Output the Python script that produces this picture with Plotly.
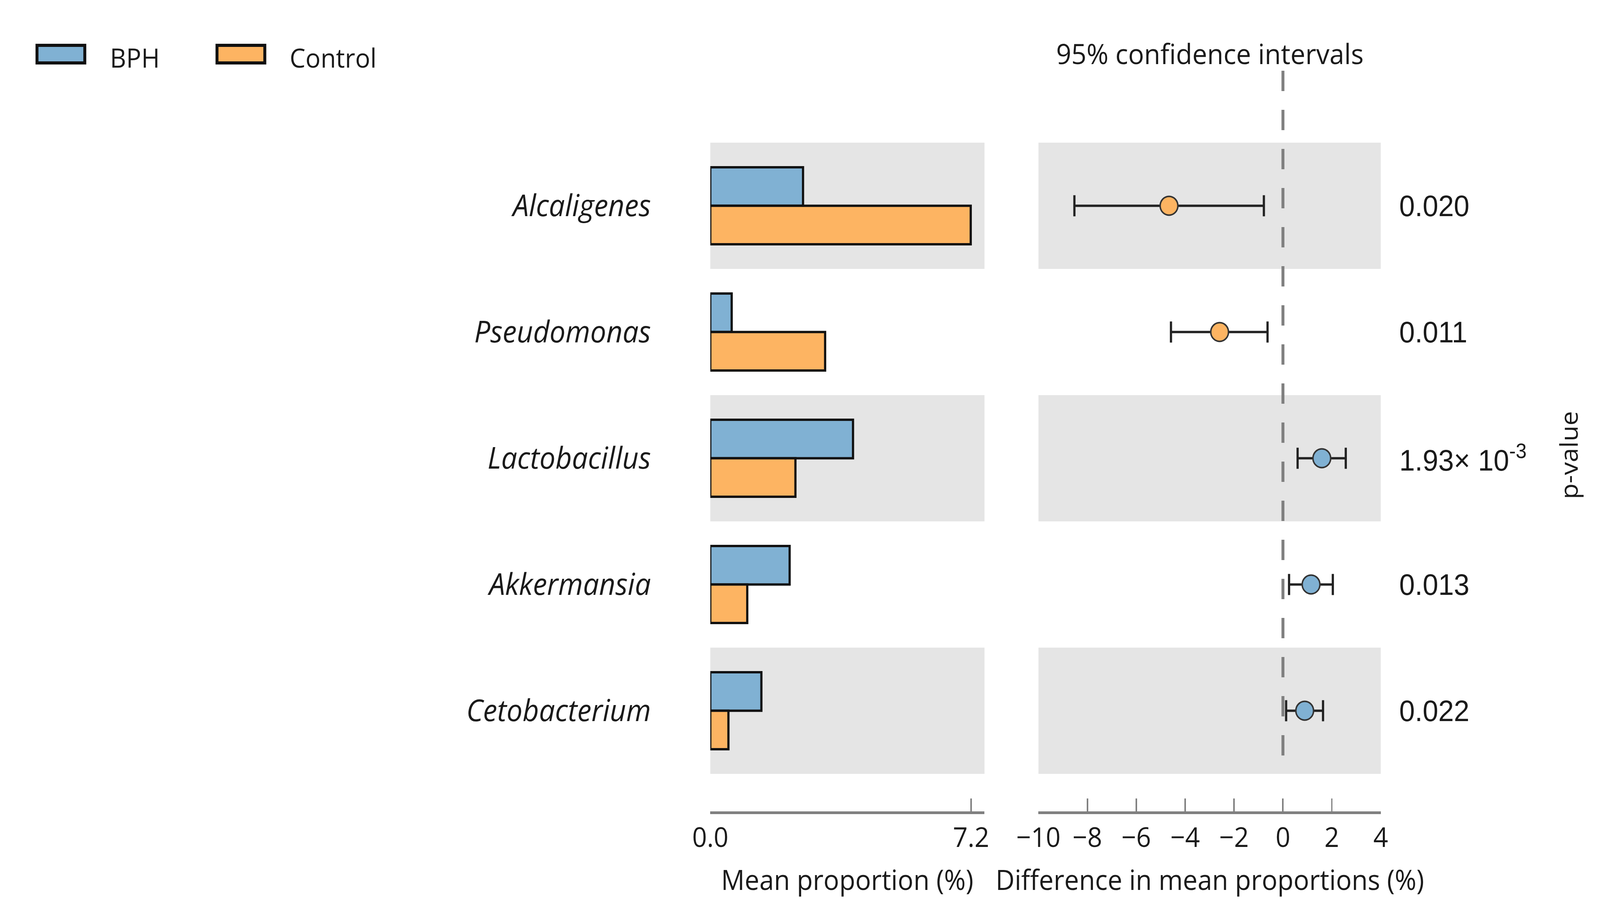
import plotly.graph_objects as go

# ---------------- data ----------------
categories = ["Alcaligenes", "Pseudomonas", "Lactobacillus", "Akkermansia", "Cetobacterium"]
groups = ["BPH", "Control"]
bph_mean = [2.56, 0.59, 3.94, 2.19, 1.41]          # mean proportion (%)
control_mean = [7.19, 3.17, 2.35, 1.02, 0.50]      # mean proportion (%)
diff_mean = [-4.66, -2.59, 1.59, 1.15, 0.89]       # difference in mean proportions (%)
ci_low = [-8.53, -4.58, 0.60, 0.25, 0.13]
ci_high = [-0.78, -0.63, 2.57, 2.04, 1.64]
p_values = ["0.020", "0.011", "1.93\u00d7 10<sup>-3</sup>", "0.013", "0.022"]
bar_tickvals = [0.0, 7.2]
bar_ticktext = ["0.0", "7.2"]
diff_tickvals = [-10, -8, -6, -4, -2, 0, 2, 4]

# ---------------- style ----------------
W, H = 4336, 2313
BLUE = "#80b1d3"
ORANGE = "#fdb462"
BAND = "#e5e5e5"
AXIS = "#808080"
TXT = "#1a1a1a"
FONT = "Open Sans"
PFONT = "Liberation Sans"
group_colors = {"BPH": BLUE, "Control": ORANGE}

pos = list(range(len(categories)))
Y_RANGE = [4.797, -1.1]
YDOM = [1 - 2075.9 / H, 1 - 171.2 / H]

fig = go.Figure()

for g, vals in zip(groups, [bph_mean, control_mean]):
    fig.add_trace(go.Bar(
        y=pos, x=vals, orientation="h", name=g,
        marker=dict(color=group_colors[g], line=dict(color="#111111", width=6)),
        xaxis="x", yaxis="y", showlegend=False, hoverinfo="skip",
    ))

plus_err = [h - m for h, m in zip(ci_high, diff_mean)]
minus_err = [m - l for m, l in zip(diff_mean, ci_low)]
pt_colors = [group_colors["BPH"] if d > 0 else group_colors["Control"] for d in diff_mean]

fig.add_trace(go.Scatter(
    x=diff_mean, y=pos, mode="markers",
    marker=dict(size=48, color=pt_colors, line=dict(color="#333333", width=4)),
    error_x=dict(type="data", symmetric=False, array=plus_err, arrayminus=minus_err,
                 color="#222222", thickness=6, width=27),
    xaxis="x2", yaxis="y2", showlegend=False, hoverinfo="skip",
))

shapes = []
for i in pos:
    if i % 2 == 0:
        for xr, yr in [("x domain", "y"), ("x2 domain", "y2")]:
            shapes.append(dict(type="rect", xref=xr, yref=yr, x0=0, x1=1,
                               y0=i - 0.5, y1=i + 0.5, fillcolor=BAND,
                               line=dict(width=0), layer="below"))
# zero reference line
shapes.append(dict(type="line", xref="x2", yref="y2", x0=0, x1=0, y0=-1.07, y1=4.40,
                   line=dict(color=AXIS, width=8, dash="52px,48px"), layer="below"))

# manual legend (large swatches)
legend_items = [("BPH", 41, 173, 240), ("Control", 538, 670, 737)]
annotations = []
for name, bx0, bx1, tx in legend_items:
    shapes.append(dict(type="rect", xref="paper", yref="paper",
                       x0=bx0 / W, x1=bx1 / W, y0=1 - 161 / H, y1=1 - 116 / H,
                       fillcolor=group_colors[name], line=dict(color="#111111", width=8)))
    annotations.append(dict(text=name, xref="paper", yref="paper", x=tx / W, y=1 - 146 / H,
                            xanchor="left", yanchor="middle", showarrow=False,
                            font=dict(family=FONT, size=68, color=TXT)))

for i, p in zip(pos, p_values):
    annotations.append(dict(text=p, xref="paper", yref="y2", x=3800 / W, y=i,
                            xanchor="left", yanchor="middle", showarrow=False,
                            font=dict(family=PFONT, size=76, color=TXT)))

annotations += [
    dict(text="95% confidence intervals", xref="x2 domain", yref="paper", x=0.5, y=1 - 136 / H,
         xanchor="center", yanchor="middle", showarrow=False,
         font=dict(family=FONT, size=72, color=TXT)),
    dict(text="Mean proportion (%)", xref="x domain", yref="paper", x=0.5, y=1 - 2249 / H,
         xanchor="center", yanchor="middle", showarrow=False,
         font=dict(family=FONT, size=71, color=TXT)),
    dict(text="Difference in mean proportions (%)", xref="x2 domain", yref="paper", x=0.5,
         y=1 - 2249 / H, xanchor="center", yanchor="middle", showarrow=False,
         font=dict(family=FONT, size=71, color=TXT)),
    dict(text="p-value", xref="paper", yref="paper", x=4268 / W, y=1 - 1165 / H,
         xanchor="center", yanchor="middle", textangle=-90, showarrow=False,
         font=dict(family=FONT, size=66, color=TXT)),
]

axis_common = dict(showgrid=False, zeroline=False, showline=True, linecolor=AXIS, linewidth=7,
                   ticks="inside", ticklen=33, tickwidth=4, tickcolor=AXIS,
                   tickfont=dict(family=FONT, size=70, color=TXT), fixedrange=True)

fig.update_layout(
    width=W, height=H, autosize=False,
    margin=dict(l=0, r=0, t=0, b=0, pad=0),
    paper_bgcolor="white", plot_bgcolor="white",
    barmode="group", bargap=0.39, bargroupgap=0,
    font=dict(family=FONT, size=70, color=TXT),
    xaxis=dict(domain=[1900 / W, 2657 / W], range=[0, 7.57], tickvals=bar_tickvals,
               ticktext=bar_ticktext, anchor="y", **axis_common),
    yaxis=dict(domain=YDOM, range=Y_RANGE, tickvals=pos, ticktext=categories, ticks="",
               showgrid=False, zeroline=False, showline=False, anchor="x",
               ticklabelstandoff=160, fixedrange=True,
               tickfont=dict(family=FONT, size=77, color=TXT, style="italic")),
    xaxis2=dict(domain=[2806 / W, 3751 / W], range=[-10, 4], tickvals=diff_tickvals,
                anchor="y2", **axis_common),
    yaxis2=dict(domain=YDOM, range=Y_RANGE, showticklabels=False, ticks="",
                showgrid=False, zeroline=False, showline=False, anchor="x2", fixedrange=True),
    shapes=shapes,
    annotations=annotations,
)

# fit the fixed-size figure exactly into whatever viewport the page is opened in
fit_js = """
(function(){
  var el = document.getElementById('{plot_id}');
  document.documentElement.style.margin = '0';
  document.documentElement.style.overflow = 'hidden';
  document.body.style.margin = '0';
  document.body.style.overflow = 'hidden';
  var w = document.documentElement.clientWidth || window.innerWidth;
  var h = document.documentElement.clientHeight || window.innerHeight;
  var sx = w / %d, sy = h / %d;
  if (Math.abs(sx - 1) > 0.002 || Math.abs(sy - 1) > 0.002) {
    el.style.transformOrigin = '0 0';
    el.style.transform = 'scale(' + sx + ',' + sy + ')';
  }
})();
""" % (W, H)

fig.write_html("out.html", config={"displayModeBar": False}, post_script=fit_js)
